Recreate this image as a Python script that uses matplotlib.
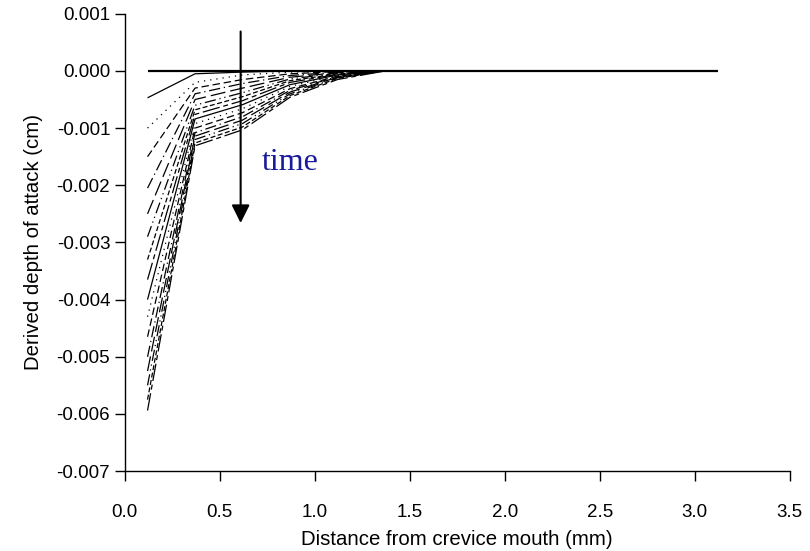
import matplotlib
matplotlib.use("Agg")
import matplotlib.pyplot as plt

# Distance from crevice mouth (mm)
distance = [0.12, 0.37, 0.62, 0.87, 1.12, 1.37, 1.62, 1.87, 2.12, 2.37, 2.62, 2.87, 3.12]

# Derived depth of attack (cm), one profile per time step
depth_t00 = [0.0, 0.0, 0.0, 0.0, 0.0, 0.0, 0.0, 0.0, 0.0, 0.0, 0.0, 0.0, 0.0]
depth_t01 = [-0.00047, -0.00005, -0.00002, 0.0, 0.0, 0.0, 0.0, 0.0, 0.0, 0.0, 0.0, 0.0, 0.0]
depth_t02 = [-0.00100, -0.00020, -0.00007, -0.00002, 0.0, 0.0, 0.0, 0.0, 0.0, 0.0, 0.0, 0.0, 0.0]
depth_t03 = [-0.00150, -0.00030, -0.00015, -0.00005, -0.00001, 0.0, 0.0, 0.0, 0.0, 0.0, 0.0, 0.0, 0.0]
depth_t04 = [-0.00205, -0.00040, -0.00022, -0.00008, -0.00002, 0.0, 0.0, 0.0, 0.0, 0.0, 0.0, 0.0, 0.0]
depth_t05 = [-0.00250, -0.00050, -0.00030, -0.00011, -0.00003, 0.0, 0.0, 0.0, 0.0, 0.0, 0.0, 0.0, 0.0]
depth_t06 = [-0.00290, -0.00060, -0.00038, -0.00014, -0.00004, 0.0, 0.0, 0.0, 0.0, 0.0, 0.0, 0.0, 0.0]
depth_t07 = [-0.00330, -0.00068, -0.00045, -0.00017, -0.00005, 0.0, 0.0, 0.0, 0.0, 0.0, 0.0, 0.0, 0.0]
depth_t08 = [-0.00365, -0.00076, -0.00052, -0.00020, -0.00006, 0.0, 0.0, 0.0, 0.0, 0.0, 0.0, 0.0, 0.0]
depth_t09 = [-0.00400, -0.00084, -0.00059, -0.00024, -0.00007, 0.0, 0.0, 0.0, 0.0, 0.0, 0.0, 0.0, 0.0]
depth_t10 = [-0.00430, -0.00092, -0.00066, -0.00027, -0.00008, 0.0, 0.0, 0.0, 0.0, 0.0, 0.0, 0.0, 0.0]
depth_t11 = [-0.00465, -0.00100, -0.00073, -0.00031, -0.00009, 0.0, 0.0, 0.0, 0.0, 0.0, 0.0, 0.0, 0.0]
depth_t12 = [-0.00500, -0.00108, -0.00080, -0.00034, -0.00010, 0.0, 0.0, 0.0, 0.0, 0.0, 0.0, 0.0, 0.0]
depth_t13 = [-0.00525, -0.00114, -0.00086, -0.00037, -0.00011, 0.0, 0.0, 0.0, 0.0, 0.0, 0.0, 0.0, 0.0]
depth_t14 = [-0.00550, -0.00120, -0.00092, -0.00040, -0.00012, 0.0, 0.0, 0.0, 0.0, 0.0, 0.0, 0.0, 0.0]
depth_t15 = [-0.00575, -0.00126, -0.00098, -0.00043, -0.00013, 0.0, 0.0, 0.0, 0.0, 0.0, 0.0, 0.0, 0.0]
depth_t16 = [-0.00594, -0.00131, -0.00103, -0.00046, -0.00015, 0.0, 0.0, 0.0, 0.0, 0.0, 0.0, 0.0, 0.0]

profiles = [depth_t00, depth_t01, depth_t02, depth_t03, depth_t04, depth_t05,
            depth_t06, depth_t07, depth_t08, depth_t09, depth_t10, depth_t11,
            depth_t12, depth_t13, depth_t14, depth_t15, depth_t16]

x_ticks = [0.0, 0.5, 1.0, 1.5, 2.0, 2.5, 3.0, 3.5]
y_ticks = [0.001, 0.000, -0.001, -0.002, -0.003, -0.004, -0.005, -0.006, -0.007]

# Cycle of dash patterns (on/off lengths in points)
dash_cycle = [
    (0, ()),                       # solid
    (0, (1, 4)),                   # dotted
    (0, (6, 3)),                   # short dash
    (0, (9, 3, 1, 3)),             # dash-dot
    (0, (12, 4)),                  # long dash
    (0, (9, 3, 1, 3, 1, 3)),       # dash-dot-dot
    (0, (4, 2)),                   # dense dash
    (0, (14, 3, 4, 3)),            # long-short
]

plt.rcParams['font.family'] = ['Liberation Sans', 'DejaVu Sans']

fig = plt.figure(figsize=(8.10, 5.51), dpi=100)
ax = fig.add_axes([0.154, 0.145, 0.821, 0.830])

for i, prof in enumerate(profiles):
    if i == 0:
        ax.plot(distance, prof, color='black', lw=1.6, solid_capstyle='butt')
    else:
        ls = dash_cycle[(i - 1) % len(dash_cycle)]
        ax.plot(distance, prof, color='black', lw=0.9, linestyle=ls)

# Time direction arrow
ax.annotate('', xy=(0.61, -0.00266), xytext=(0.61, 0.00069),
            arrowprops=dict(arrowstyle='-|>,head_length=1.1,head_width=0.55',
                            color='black', lw=1.5, shrinkA=0, shrinkB=0))
ax.text(0.72, -0.00160, 'time', color='#1a1a9c', fontsize=23,
        family=['Liberation Serif', 'DejaVu Serif'], ha='left', va='center')

ax.set_xlim(0.0, 3.5)
ax.set_ylim(-0.007, 0.001)
ax.set_xticks(x_ticks)
ax.set_yticks(y_ticks)
ax.set_xticklabels([f'{v:.1f}' for v in x_ticks])
ax.set_yticklabels([f'{v:.3f}' for v in y_ticks])

ax.spines['top'].set_visible(False)
ax.spines['right'].set_visible(False)
for s in ('left', 'bottom'):
    ax.spines[s].set_linewidth(1.0)
ax.tick_params(direction='out', length=7, width=1.0, labelsize=13.5)
ax.tick_params(axis='y', pad=3.5)
ax.tick_params(axis='x', pad=17)

ax.set_xlabel('Distance from crevice mouth (mm)', fontsize=14.7, labelpad=6)
ax.set_ylabel('Derived depth of attack (cm)', fontsize=14.7, labelpad=10)

fig.savefig('out.png', dpi=100)
